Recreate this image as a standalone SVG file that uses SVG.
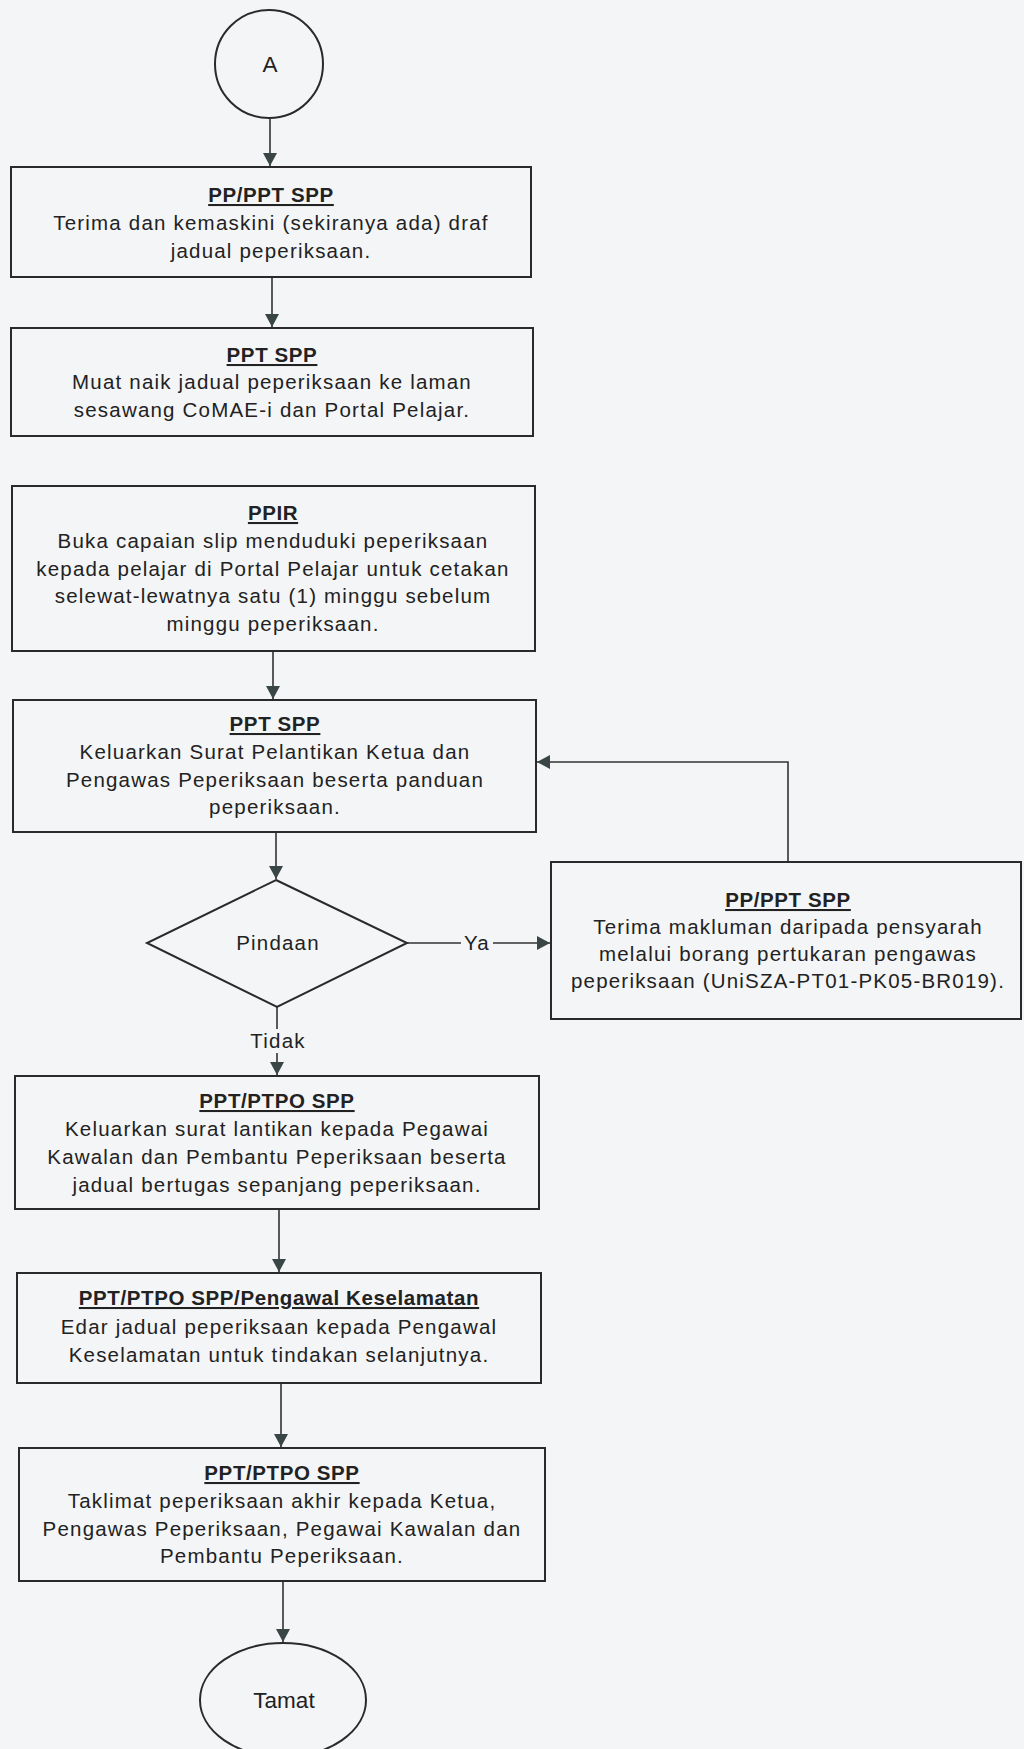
<svg xmlns="http://www.w3.org/2000/svg" width="1024" height="1749" viewBox="0 0 1024 1749">
<style>
.bg{fill:#f4f5f7}
.box{fill:none;stroke:#2a2a2a;stroke-width:2}
.t{font-family:"Liberation Sans",Arial,sans-serif;font-size:20.5px;fill:#222;text-anchor:middle;letter-spacing:1.2px}
.h{font-weight:bold;text-decoration:underline;letter-spacing:0.6px}
.big{font-size:22.5px;letter-spacing:0}
.c{fill:none;stroke:#333;stroke-width:1.6}
</style>
<defs>
<marker id="ah" markerUnits="userSpaceOnUse" markerWidth="13" markerHeight="14" refX="13" refY="7" orient="auto">
<path d="M0,0 L13,7 L0,14 z" fill="#3a4646"/>
</marker>
</defs>
<rect class="bg" x="0" y="0" width="1024" height="1749"/>

<g id="connectors">
<path class="c" d="M270,119 V166" marker-end="url(#ah)"/>
<path class="c" d="M272,277 V327" marker-end="url(#ah)"/>
<path class="c" d="M273,651 V699" marker-end="url(#ah)"/>
<path class="c" d="M276,832 V879" marker-end="url(#ah)"/>
<path class="c" d="M407,943 H461 M493,943 H550" marker-end="url(#ah)"/>
<path class="c" d="M788,862 V762 H537" marker-end="url(#ah)"/>
<path class="c" d="M277,1007 V1029 M277,1053 V1075" marker-end="url(#ah)"/>
<path class="c" d="M279,1209 V1272" marker-end="url(#ah)"/>
<path class="c" d="M281,1383 V1447" marker-end="url(#ah)"/>
<path class="c" d="M283,1581 V1642" marker-end="url(#ah)"/>
<text class="t" x="477" y="950">Ya</text>
<text class="t" x="278" y="1048">Tidak</text>
</g>

<g id="start">
<circle class="box" cx="269" cy="64" r="54"/>
<text class="t big" x="270" y="72">A</text>
</g>

<g id="n1">
<rect class="box" x="11" y="167" width="520" height="110"/>
<text class="t h" x="271" y="202">PP/PPT SPP</text>
<text class="t" x="271" y="230">Terima dan kemaskini (sekiranya ada) draf</text>
<text class="t" x="271" y="258">jadual peperiksaan.</text>
</g>

<g id="n2">
<rect class="box" x="11" y="328" width="522" height="108"/>
<text class="t h" x="272" y="362">PPT SPP</text>
<text class="t" x="272" y="389">Muat naik jadual peperiksaan ke laman</text>
<text class="t" x="272" y="417">sesawang CoMAE-i dan Portal Pelajar.</text>
</g>

<g id="n3">
<rect class="box" x="12" y="486" width="523" height="165"/>
<text class="t h" x="273" y="520">PPIR</text>
<text class="t" x="273" y="548">Buka capaian slip menduduki peperiksaan</text>
<text class="t" x="273" y="576">kepada pelajar di Portal Pelajar untuk cetakan</text>
<text class="t" x="273" y="603">selewat-lewatnya satu (1) minggu sebelum</text>
<text class="t" x="273" y="631">minggu peperiksaan.</text>
</g>

<g id="n4">
<rect class="box" x="13" y="700" width="523" height="132"/>
<text class="t h" x="275" y="731">PPT SPP</text>
<text class="t" x="275" y="759">Keluarkan Surat Pelantikan Ketua dan</text>
<text class="t" x="275" y="787">Pengawas Peperiksaan beserta panduan</text>
<text class="t" x="275" y="814">peperiksaan.</text>
</g>

<g id="decision">
<polygon class="box" points="276,880 407,943 277,1007 147,943"/>
<text class="t" x="278" y="950">Pindaan</text>
</g>

<g id="n5">
<rect class="box" x="551" y="862" width="470" height="157"/>
<text class="t h" x="788" y="907">PP/PPT SPP</text>
<text class="t" x="788" y="934">Terima makluman daripada pensyarah</text>
<text class="t" x="788" y="961">melalui borang pertukaran pengawas</text>
<text class="t" x="788" y="988">peperiksaan (UniSZA-PT01-PK05-BR019).</text>
</g>

<g id="n6">
<rect class="box" x="15" y="1076" width="524" height="133"/>
<text class="t h" x="277" y="1108">PPT/PTPO SPP</text>
<text class="t" x="277" y="1136">Keluarkan surat lantikan kepada Pegawai</text>
<text class="t" x="277" y="1164">Kawalan dan Pembantu Peperiksaan beserta</text>
<text class="t" x="277" y="1192">jadual bertugas sepanjang peperiksaan.</text>
</g>

<g id="n7">
<rect class="box" x="17" y="1273" width="524" height="110"/>
<text class="t h" x="279" y="1305">PPT/PTPO SPP/Pengawal Keselamatan</text>
<text class="t" x="279" y="1334">Edar jadual peperiksaan kepada Pengawal</text>
<text class="t" x="279" y="1362">Keselamatan untuk tindakan selanjutnya.</text>
</g>

<g id="n8">
<rect class="box" x="19" y="1448" width="526" height="133"/>
<text class="t h" x="282" y="1480">PPT/PTPO SPP</text>
<text class="t" x="282" y="1508">Taklimat peperiksaan akhir kepada Ketua,</text>
<text class="t" x="282" y="1536">Pengawas Peperiksaan, Pegawai Kawalan dan</text>
<text class="t" x="282" y="1563">Pembantu Peperiksaan.</text>
</g>

<g id="end">
<ellipse class="box" cx="283" cy="1700" rx="83" ry="57"/>
<text class="t big" x="284" y="1708">Tamat</text>
</g>
</svg>
